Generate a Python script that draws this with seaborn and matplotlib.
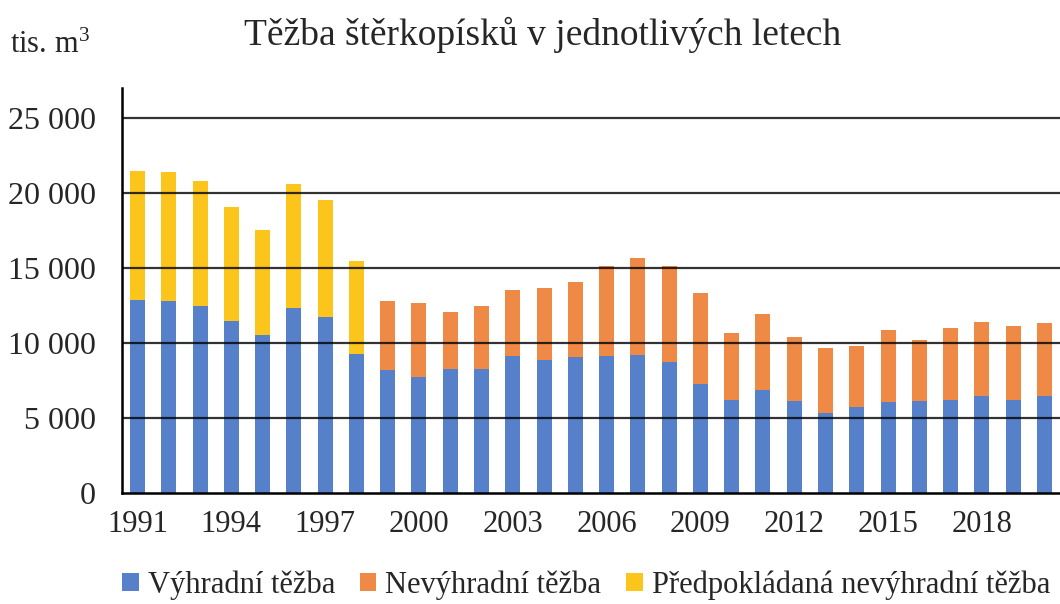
import numpy as np
import pandas as pd
import matplotlib
matplotlib.use("Agg")
import matplotlib.pyplot as plt
import seaborn as sns
from matplotlib.patches import Patch

years = [str(y) for y in range(1991, 2021)]
vyhradni = [12870, 12800, 12490, 11470, 10530, 12360, 11730, 9290,
            8200, 7760, 8270, 8270, 9110, 8870, 9070, 9110, 9200, 8760,
            7270, 6180, 6890, 6130, 5330, 5760, 6070, 6130, 6200, 6490, 6200, 6490]
nevyhradni = [0, 0, 0, 0, 0, 0, 0, 0,
              4580, 4880, 3820, 4200, 4400, 4770, 5020, 6020, 6440, 6370,
              6040, 4510, 5020, 4290, 4310, 4040, 4800, 4070, 4820, 4890, 4910, 4820]
predpokladana = [8600, 8580, 8310, 7620, 7000, 8220, 7800, 6180] + [0] * 22
tick_years = ["1991", "1994", "1997", "2000", "2003", "2006", "2009", "2012", "2015", "2018"]
y_ticks = [0, 5000, 10000, 15000, 20000, 25000]
y_labels = ["0", "5 000", "10 000", "15 000", "20 000", "25 000"]
series_names = ["Výhradní těžba", "Nevýhradní těžba", "Předpokládaná nevýhradní těžba"]
colors = ["#5681CA", "#EE8A46", "#FCC51B"]
title = "Těžba štěrkopísků v jednotlivých letech"
unit = "tis. m$^{3}$"

sns.set_theme(style="white")
plt.rcParams["font.family"] = ["Liberation Serif", "DejaVu Serif"]
plt.rcParams["mathtext.fontset"] = "custom"
plt.rcParams["mathtext.rm"] = "Liberation Serif"
plt.rcParams["mathtext.it"] = "Liberation Serif"

fig = plt.figure(figsize=(10.6, 6.04), dpi=100)
ax = fig.add_axes([0.115, 1 - 493 / 604, 0.885, 405 / 604])

df = pd.DataFrame({"rok": years, "v": vyhradni, "n": nevyhradni, "p": predpokladana})
b1 = np.array(vyhradni)
b2 = b1 + np.array(nevyhradni)
common = dict(data=df, x="rok", order=years, width=0.48, saturation=1,
              errorbar=None, linewidth=0, ax=ax)
sns.barplot(y="v", color=colors[0], **common)
sns.barplot(y="n", color=colors[1], bottom=b1, **common)
sns.barplot(y="p", color=colors[2], bottom=b2, **common)

ax.set_xlim(-0.5, 29.3)
ax.set_ylim(0, 27000)
ax.set_yticks(y_ticks)
ax.set_yticklabels(y_labels, fontsize=23)
ax.tick_params(axis="y", length=0, pad=19)
ax.set_xticks(range(0, 30, 3))
ax.set_xticklabels(tick_years, fontsize=22)
ax.set_xticks(np.arange(-0.5, 30, 3), minor=True)
ax.tick_params(axis="x", which="major", length=0, pad=12)
ax.tick_params(axis="x", which="minor", length=7, width=1.6, color="black", direction="out")
ax.set_xlabel("")
ax.set_ylabel("")

for y in y_ticks[1:]:
    ax.axhline(y, color="black", lw=1.6, alpha=0.8, zorder=5)

for s in ["top", "right"]:
    ax.spines[s].set_visible(False)
for s in ["left", "bottom"]:
    ax.spines[s].set_color("black")
    ax.spines[s].set_linewidth(1.8)
    ax.spines[s].set_zorder(6)

fig.text(543 / 1060, 1 - 35 / 604, title, ha="center", va="center", fontsize=27)
fig.text(10 / 1060, 1 - 45 / 604, unit, ha="left", va="center", fontsize=22)

handles = [Patch(facecolor=c, edgecolor="none") for c in colors]
fig.legend(handles, series_names, loc="center", bbox_to_anchor=(586 / 1060, 1 - 585 / 604),
           ncol=3, frameon=False, fontsize=22, handlelength=0.55, handleheight=0.55,
           handletextpad=0.3, columnspacing=0.8, borderpad=0)

fig.savefig("out.png", dpi=100)
